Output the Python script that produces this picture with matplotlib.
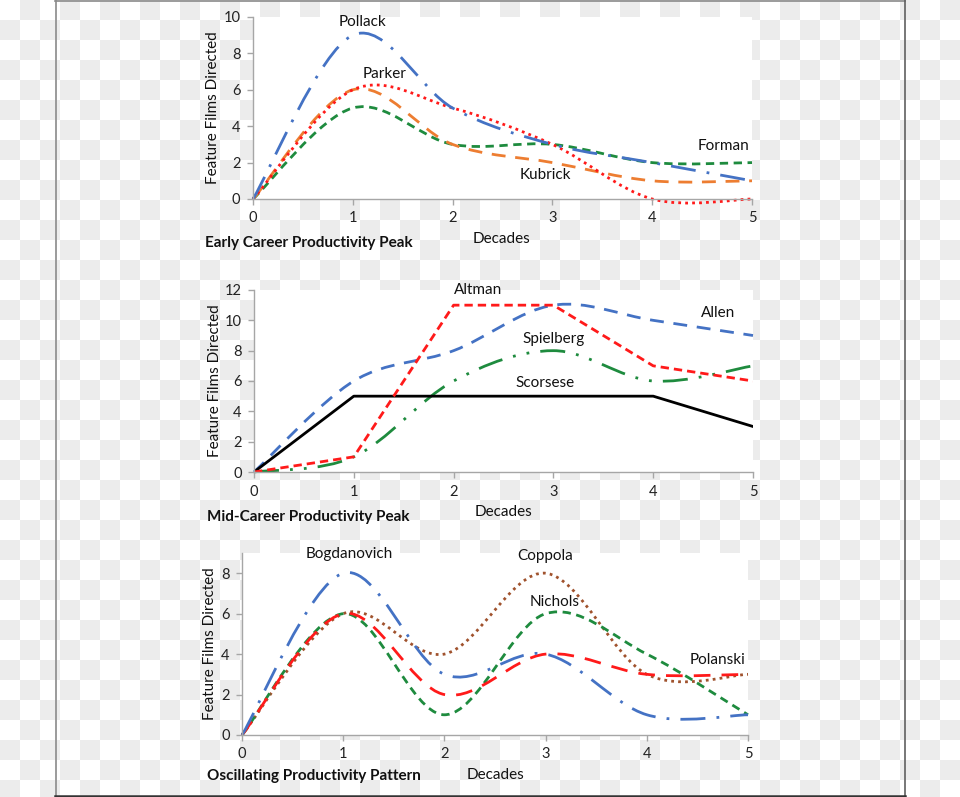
import numpy as np
import matplotlib
matplotlib.use("Agg")
import matplotlib.pyplot as plt
from matplotlib.path import Path
from matplotlib.patches import PathPatch

plt.rcParams['font.family'] = ['Lato', 'DejaVu Sans']

W, H = 960, 797
decades = [0, 1, 2, 3, 4, 5]

# Panel 1: Early Career Productivity Peak
pollack = [0, 9, 5, 3, 2, 1]
parker = [0, 6, 5, 3, 0, 0]
kubrick = [0, 6, 3, 2, 1, 1]
forman = [0, 5, 3, 3, 2, 2]

# Panel 2: Mid-Career Productivity Peak
altman = [0, 1, 11, 11, 7, 6]
allen = [0, 6, 8, 11, 10, 9]
spielberg = [0, 1, 6, 8, 6, 7]
scorsese = [0, 5, 5, 5, 5, 3]

# Panel 3: Oscillating Productivity Pattern
bogdanovich = [0, 8, 3, 4, 1, 1]
coppola = [0, 6, 4, 8, 3, 3]
nichols = [0, 6, 1, 6, 4, 1]
polanski = [0, 6, 2, 4, 3, 3]

titles = ["Early Career Productivity Peak", "Mid-Career Productivity Peak",
          "Oscillating Productivity Pattern"]
ylabel = "Feature Films Directed"
xlabel = "Decades"

BLUE = "#4472C4"
RED = "#FF1A1A"
ORANGE = "#ED7D31"
GREEN = "#1E8B3E"
BROWN = "#A0522D"

fig = plt.figure(figsize=(W / 100, H / 100), dpi=100)

# checkerboard background + frame
bg = fig.add_axes([0, 0, 1, 1], zorder=-10)
ncol, nrow = W // 20 + 1, H // 20 + 1
jj, ii = np.indices((nrow, ncol))
board = ((ii + jj) % 2).astype(float)
bg.imshow(board, cmap=matplotlib.colors.ListedColormap(["#ffffff", "#ececec"]),
          extent=[0, ncol * 20, nrow * 20, 0], interpolation="nearest", aspect="auto")
bg.set_xlim(0, W)
bg.set_ylim(H, 0)
bg.axis("off")
bg.plot([55.5, 55.5], [0, 796], color="#8a8a8a", lw=1.2)
bg.plot([55, 904.5], [0.5, 0.5], color="#8a8a8a", lw=1.2)
bg.plot([904.5, 904.5], [0, 796], color="#606060", lw=1.2)
bg.plot([55, 905], [796, 796], color="#333333", lw=1.8)


def fx(x):
    return x / W


def fy(y):
    return 1 - y / H


def make_ax(l, r, t, b):
    ax = fig.add_axes([fx(l), fy(b), fx(r) - fx(l), fy(t) - fy(b)])
    ax.set_facecolor("white")
    for s in ["top", "right"]:
        ax.spines[s].set_visible(False)
    for s in ["left", "bottom"]:
        ax.spines[s].set_color("#A6A6A6")
        ax.spines[s].set_linewidth(1.0)
    ax.tick_params(axis="both", direction="out", length=4, width=1,
                   color="#A6A6A6", labelsize=10.5, labelcolor="#222222", pad=5)
    ax.set_xlim(0, 5)
    ax.set_xticks(decades)
    return ax


def smooth(ax, xs, ys, **kw):
    pts = np.column_stack([xs, ys]).astype(float)
    n = len(pts)
    verts = [pts[0]]
    codes = [Path.MOVETO]
    for i in range(n - 1):
        p0 = pts[max(i - 1, 0)]
        p1 = pts[i]
        p2 = pts[i + 1]
        p3 = pts[min(i + 2, n - 1)]
        c1 = p1 + (p2 - p0) / 6.0
        c2 = p2 - (p3 - p1) / 6.0
        verts += [c1, c2, p2]
        codes += [Path.CURVE4] * 3
    patch = PathPatch(Path(verts, codes), fill=False, capstyle="butt",
                      clip_on=False, **kw)
    ax.add_patch(patch)


def text(ax, x, y, s):
    ax.text(x, y, s, ha="center", va="center", fontsize=11, color="#111111")


lw = 2.0

# ---- Panel 1
ax1 = make_ax(253, 752, 17, 199)
ax1.set_ylim(0, 10)
ax1.set_yticks([0, 2, 4, 6, 8, 10])
smooth(ax1, decades, forman, edgecolor=GREEN, lw=lw, linestyle=(0, (3, 2)))
smooth(ax1, decades, kubrick, edgecolor=ORANGE, lw=lw, linestyle=(0, (5, 3.5)))
smooth(ax1, decades, parker, edgecolor=RED, lw=lw, linestyle=(0, (1, 1.5)))
smooth(ax1, decades, pollack, edgecolor=BLUE, lw=lw, linestyle=(0, (9, 4, 1, 4)))
text(ax1, 1.10, 9.7, "Pollack")
text(ax1, 1.32, 6.85, "Parker")
text(ax1, 4.71, 2.9, "Forman")
text(ax1, 2.93, 1.32, "Kubrick")

# ---- Panel 2
ax2 = make_ax(254, 753, 290, 472)
ax2.set_ylim(0, 12)
ax2.set_yticks([0, 2, 4, 6, 8, 10, 12])
ax2.plot(decades, scorsese, color="black", lw=lw)
smooth(ax2, decades, spielberg, edgecolor=GREEN, lw=lw, linestyle=(0, (9, 4, 1, 4, 1, 4)))
smooth(ax2, decades, allen, edgecolor=BLUE, lw=lw, linestyle=(0, (5, 3.5)))
ax2.plot(decades, altman, color=RED, lw=lw, linestyle=(0, (3, 1.8)))
text(ax2, 2.25, 12.0, "Altman")
text(ax2, 4.65, 10.5, "Allen")
text(ax2, 3.0, 8.77, "Spielberg")
text(ax2, 2.92, 5.87, "Scorsese")

# ---- Panel 3
ax3 = make_ax(242, 748, 553, 735)
ax3.set_ylim(0, 9)
ax3.set_yticks([0, 2, 4, 6, 8])
smooth(ax3, decades, coppola, edgecolor=BROWN, lw=lw, linestyle=(0, (1, 1.5)))
smooth(ax3, decades, nichols, edgecolor=GREEN, lw=lw, linestyle=(0, (3, 2)))
smooth(ax3, decades, polanski, edgecolor=RED, lw=lw, linestyle=(0, (6, 4)))
smooth(ax3, decades, bogdanovich, edgecolor=BLUE, lw=lw, linestyle=(0, (9, 4, 1, 4)))
text(ax3, 1.06, 8.94, "Bogdanovich")
text(ax3, 3.0, 8.84, "Coppola")
text(ax3, 3.09, 6.57, "Nichols")
text(ax3, 4.70, 3.70, "Polanski")

# axis labels and titles
for (tx, ty), (dx, dy), (yx, yy), t in [
        ((205, 243), (502, 239), (213, 108), titles[0]),
        ((207, 517), (503, 512), (215, 381), titles[1]),
        ((207, 776), (495, 775), (210, 644), titles[2])]:
    fig.text(fx(tx), fy(ty), t, ha="left", va="center", fontsize=11,
             fontweight="bold", color="#111111")
    fig.text(fx(dx), fy(dy), xlabel, ha="center", va="center", fontsize=11,
             color="#111111")
    fig.text(fx(yx), fy(yy), ylabel, ha="center", va="center", fontsize=11,
             rotation=90, color="#111111")

fig.savefig("out.png", dpi=100)
